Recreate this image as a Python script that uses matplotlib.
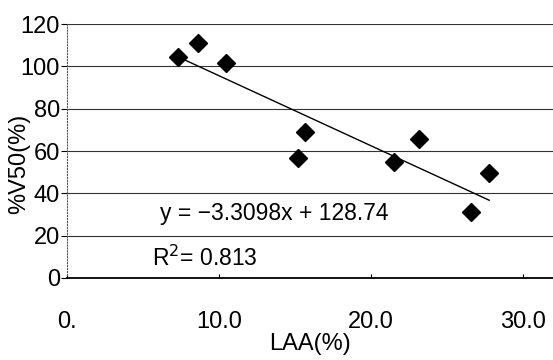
import numpy as np
import matplotlib
matplotlib.use('Agg')
import matplotlib.pyplot as plt

# values
laa = [7.3, 8.6, 10.5, 15.7, 15.2, 21.5, 23.2, 27.8, 26.6]
v50 = [104.4, 111.0, 101.6, 69.0, 56.7, 55.0, 65.6, 49.6, 31.2]
slope, intercept = -3.3098, 128.74
r2 = 0.813

xticks = [0, 10, 20, 30]
xticklabels = ['0.', '10.0', '20.0', '30.0']
yticks = [0, 20, 40, 60, 80, 100, 120]

plt.rcParams['font.family'] = ['Liberation Sans', 'DejaVu Sans']

fig = plt.figure(figsize=(5.53, 3.6), dpi=100)
ax = fig.add_axes([0.121, 0.228, 0.879, 0.705])

for y in yticks[1:]:
    ax.axhline(y, color='#333333', lw=0.8, zorder=1)

ax.plot(laa, v50, 'D', color='black', ms=9, zorder=3)
xs = np.array([min(laa), max(laa)])
ax.plot(xs, slope * xs + intercept, color='black', lw=1.0, zorder=2)

ax.set_xlim(0, 32)
ax.set_ylim(0, 120)
ax.set_xticks(xticks)
ax.set_xticklabels(xticklabels)
ax.set_yticks(yticks)
ax.tick_params(axis='x', direction='in', length=3, pad=24, labelsize=17)
ax.tick_params(axis='y', direction='out', length=4, pad=1, labelsize=17)

for s in ['top', 'right']:
    ax.spines[s].set_visible(False)
ax.spines['left'].set_linestyle(':')
ax.spines['left'].set_color('#555555')
ax.spines['bottom'].set_color('black')
ax.spines['bottom'].set_linewidth(1.3)

ax.text(6.1, 30.5, 'y = \u22123.3098x + 128.74', fontsize=16.5, va='center')
ax.text(5.6, 9.5, 'R$^2$= %.3f' % r2, fontsize=16.5, va='center')

ax.set_xlabel('LAA(%)', fontsize=17, labelpad=0)
ax.set_ylabel('%V50(%)', fontsize=17)
ax.yaxis.set_label_coords(-0.075, 0.45)

fig.savefig('out.png', dpi=100)
